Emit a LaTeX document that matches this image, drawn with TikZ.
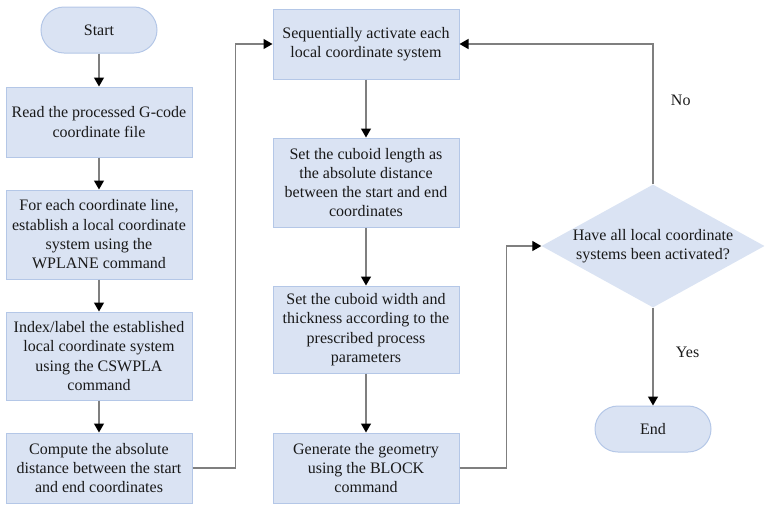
\documentclass[tikz,border=0pt]{standalone}
\usepackage{fontspec}
\setmainfont{Liberation Serif}
\usetikzlibrary{arrows.meta,shapes.geometric}

\definecolor{boxfill}{HTML}{DAE3F3}
\definecolor{boxline}{HTML}{B4C7E7}
\definecolor{flowline}{HTML}{7F7F7F}

\tikzset{
    procbox/.style={rectangle, draw=boxline, fill=boxfill, line width=1pt,
        minimum width=186pt, align=center, inner sep=1pt,
        font=\fontsize{16}{19.3}\selectfont, text=black!90},
    termbox/.style={procbox, rounded corners=23pt, minimum width=116pt, minimum height=46pt},
    decbox/.style={diamond, fill=boxfill, aspect=1.8, inner sep=0pt, align=center,
        minimum width=223pt, minimum height=122pt,
        font=\fontsize{16}{19.3}\selectfont, text=black!90},
    arr/.style={draw=flowline, line width=1.3pt,
        -{Triangle[length=9pt,width=10pt,color=black]}},
    tag/.style={font=\fontsize{16}{19.3}\selectfont, text=black!90}
}

\begin{document}
\begin{tikzpicture}[x=1pt,y=-1pt]
    \useasboundingbox (0,0) rectangle (770,509);

    % left column
    \node[termbox] (start) at (99,30) {Start};
    \node[procbox, minimum height=70pt] (read) at (99,122) {Read the processed G-code\\coordinate file};
    \node[procbox, minimum height=89pt] (wplane) at (99,234.5) {For each coordinate line,\\establish a local coordinate\\system using the\\WPLANE command};
    \node[procbox, minimum height=88pt] (cswpla) at (99,356) {Index/label the established\\local coordinate system\\using the CSWPLA\\command};
    \node[procbox, minimum height=70pt] (dist) at (99,468) {Compute the absolute\\distance between the start\\and end coordinates};

    % middle column
    \node[procbox, minimum height=70pt] (activate) at (366,44) {Sequentially activate each\\local coordinate system};
    \node[procbox, minimum height=89pt] (length) at (366,182.5) {Set the cuboid length as\\the absolute distance\\between the start and end\\coordinates};
    \node[procbox, minimum height=87pt] (width) at (366,329.5) {Set the cuboid width and\\thickness according to the\\prescribed process\\parameters};
    \node[procbox, minimum height=70pt] (block) at (366,468) {Generate the geometry\\using the BLOCK\\command};

    % right column
    \node[decbox] (check) at (653,246) {Have all local coordinate\\systems been activated?};
    \node[termbox] (finish) at (653,429) {End};

    \draw[arr] (start) -- (read);
    \draw[arr] (read) -- (wplane);
    \draw[arr] (wplane) -- (cswpla);
    \draw[arr] (cswpla) -- (dist);
    \draw[arr] (dist.east) -- ++(43,0) |- (activate.west);
    \draw[arr] (activate) -- (length);
    \draw[arr] (length) -- (width);
    \draw[arr] (width) -- (block);
    \draw[arr] (block.east) -- ++(47,0) |- (check.west);
    \draw[arr] (check.north) |- (activate.east) node[tag, pos=0.3, right=14pt] (no) {No};
    \draw[arr] (check) -- (finish) node[tag, pos=0.46, right=19pt] (yes) {Yes};
\end{tikzpicture}
\end{document}
